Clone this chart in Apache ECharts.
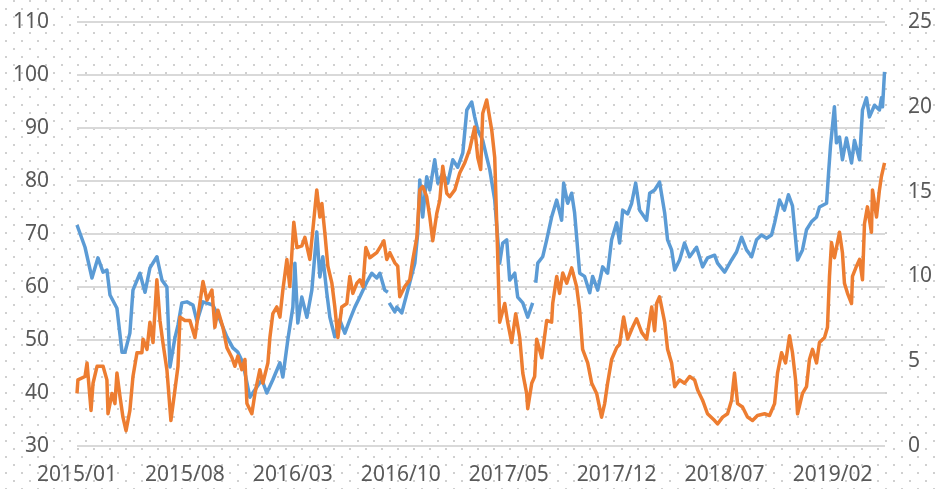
<!DOCTYPE html>
<html>
<head>
<meta charset="utf-8">
<script src="https://cdn.jsdelivr.net/npm/echarts@6/dist/echarts.min.js"></script>
<style>
    html, body { margin: 0; padding: 0; background: #fff; }
    #main { width: 938px; height: 489px; }
</style>
</head>
<body>
<div id="main"></div>
<script>
// x = months since 2015/01
var blueData = [
    [0,71.7],[0.52,67.5],[0.97,61.7],[1.36,65.5],[1.69,62.8],[1.94,63.2],[2.14,58.5],[2.59,56.0],
    [2.92,47.7],[3.11,47.7],[3.43,51.3],[3.63,59.4],[4.08,62.6],[4.41,59.0],[4.73,63.6],[5.18,65.7],
    [5.51,61.3],[5.83,60.0],[6.03,44.9],[6.35,50.4],[6.55,52.8],[6.80,57.0],[7.13,57.2],[7.52,56.6],
    [7.78,53.5],[8.17,57.2],[8.81,56.6],[9.27,53.8],[9.72,50.6],[10.11,48.5],[10.43,47.7],[10.76,45.7],
    [11.21,39.2],[11.54,40.6],[11.99,42.5],[12.31,40.0],[12.70,42.5],[13.16,45.7],[13.35,43.0],[13.67,50.0],
    [14.00,56.2],[14.13,64.5],[14.32,53.2],[14.58,58.1],[14.91,54.3],[15.23,59.4],[15.55,70.4],[15.75,61.9],
    [15.94,65.7],[16.20,58.9],[16.40,54.3],[16.72,50.6],[17.04,53.8],[17.37,51.3],[17.69,53.8],[18.02,56.2],
    [18.34,58.1],[18.79,60.9],[19.12,62.6],[19.44,61.7],[19.64,62.6],[19.96,59.4],[20.16,59.0],[20.20,null],
    [20.25,57.0],[20.61,55.3],[20.74,56.2],[21.06,55.1],[21.45,59.4],[21.91,64.5],[22.10,70.2],[22.23,80.2],
    [22.42,73.2],[22.68,80.8],[22.88,78.3],[23.20,84.0],[23.40,79.6],[23.72,81.5],[24.04,79.6],[24.37,84.0],
    [24.69,82.6],[25.02,85.3],[25.28,93.4],[25.60,94.9],[25.79,92.1],[25.99,89.6],[26.31,87.7],[26.57,84.5],
    [26.77,82.1],[27.09,76.4],[27.41,64.5],[27.61,68.3],[27.87,68.9],[28.06,61.3],[28.39,62.6],[28.58,58.1],
    [28.91,57.0],[29.23,54.3],[29.55,57.0],[29.65,null],[29.75,60.8],[29.88,64.5],[30.20,65.7],[30.46,68.9],
    [30.78,73.2],[31.11,76.4],[31.43,72.6],[31.56,79.6],[31.82,75.8],[32.08,77.7],[32.27,74.0],[32.60,62.6],
    [32.92,62.0],[33.25,58.9],[33.44,62.0],[33.77,59.4],[34.09,63.8],[34.41,62.6],[34.67,68.9],[35.00,72.1],
    [35.19,68.3],[35.39,74.5],[35.71,73.8],[35.97,75.8],[36.23,79.6],[36.49,74.5],[36.94,72.6],[37.14,77.7],
    [37.46,78.3],[37.78,79.8],[38.11,74.0],[38.30,68.9],[38.56,67.0],[38.76,63.2],[39.08,65.1],[39.40,68.3],
    [39.73,65.7],[40.18,67.5],[40.57,63.8],[40.89,65.5],[41.35,66.0],[41.54,64.5],[42.00,62.8],[42.45,65.1],
    [42.77,66.6],[43.10,69.4],[43.42,67.0],[43.75,65.7],[44.07,68.9],[44.39,69.8],[44.72,69.2],[45.04,69.8],
    [45.24,72.1],[45.56,76.4],[45.88,74.5],[46.14,77.4],[46.40,75.3],[46.73,65.1],[47.05,67.0],[47.31,70.8],
    [47.63,72.3],[47.96,73.2],[48.15,75.1],[48.61,75.8],[48.74,81.5],[48.87,86.8],[49.12,94.0],[49.25,87.2],
    [49.45,88.3],[49.64,84.0],[49.90,88.1],[50.23,83.4],[50.42,87.7],[50.75,84.0],[50.94,93.4],[51.20,95.7],
    [51.39,92.1],[51.72,94.3],[52.04,93.4],[52.17,95.7],[52.24,94.0],[52.37,100.6]
];

var orangeData = [
    [0,3.1],[0.06,3.9],[0.52,4.1],[0.65,4.9],[0.91,2.1],[1.04,3.7],[1.30,4.7],[1.69,4.7],
    [1.94,3.9],[2.01,1.9],[2.27,3.1],[2.46,2.5],[2.59,4.3],[2.79,2.9],[2.98,1.7],[3.18,0.9],
    [3.43,2.1],[3.63,4.1],[3.89,5.5],[4.21,5.5],[4.28,6.3],[4.54,5.7],[4.73,7.3],[4.93,6.1],
    [5.18,9.8],[5.38,7.4],[5.57,6.1],[5.83,4.5],[6.09,1.5],[6.35,3.3],[6.55,4.7],[6.68,7.6],
    [7.00,7.4],[7.32,7.4],[7.65,6.4],[7.84,7.6],[8.17,9.7],[8.43,8.6],[8.75,9.2],[8.94,7.0],
    [9.14,8.0],[9.46,7.0],[9.72,5.8],[10.05,5.2],[10.24,4.7],[10.43,5.3],[10.69,4.5],[10.89,5.1],
    [11.02,2.5],[11.34,1.9],[11.54,3.1],[11.86,4.5],[12.05,3.7],[12.38,4.9],[12.51,6.4],[12.70,7.8],
    [12.96,8.2],[13.16,7.6],[13.35,9.2],[13.61,11.0],[13.80,9.4],[14.06,13.2],[14.26,11.7],[14.58,11.8],
    [14.78,12.3],[15.10,11.0],[15.29,12.7],[15.55,15.1],[15.75,13.5],[15.88,14.3],[16.07,12.6],[16.27,10.6],
    [16.53,9.6],[16.72,8.2],[16.92,6.4],[17.17,8.2],[17.50,8.4],[17.69,10.0],[17.89,9.0],[18.15,9.6],
    [18.34,9.8],[18.54,9.4],[18.73,11.7],[18.99,11.1],[19.44,11.4],[19.64,11.7],[19.90,12.1],[20.09,11.0],
    [20.29,11.4],[20.61,10.8],[20.80,10.6],[20.93,8.8],[21.26,9.4],[21.58,9.8],[21.78,11.0],[22.04,12.3],
    [22.23,15.1],[22.42,15.3],[22.68,14.7],[22.88,13.5],[23.07,12.1],[23.33,13.7],[23.53,14.5],[23.72,16.5],
    [23.98,14.9],[24.17,14.7],[24.50,15.1],[24.82,16.1],[25.15,16.7],[25.47,17.5],[25.79,18.8],[25.99,17.0],
    [26.18,16.3],[26.31,19.6],[26.57,20.4],[26.90,18.6],[27.09,17.0],[27.22,13.1],[27.35,9.2],[27.41,7.3],
    [27.74,8.4],[27.93,7.3],[28.19,6.1],[28.45,7.8],[28.71,6.4],[28.91,4.3],[29.16,3.1],[29.23,2.2],
    [29.49,3.7],[29.68,4.1],[29.81,6.3],[30.14,5.2],[30.46,7.4],[30.78,7.3],[30.85,8.4],[31.11,10.0],
    [31.30,9.0],[31.50,10.2],[31.76,9.6],[32.08,10.5],[32.40,9.4],[32.60,8.0],[32.79,5.7],[33.12,4.9],
    [33.38,3.7],[33.70,3.1],[34.02,1.7],[34.22,2.5],[34.41,3.7],[34.67,5.1],[35.00,5.8],[35.19,6.0],
    [35.45,7.6],[35.71,6.3],[36.03,7.0],[36.29,7.5],[36.62,6.7],[36.94,6.3],[37.27,8.2],[37.46,6.8],
    [37.59,8.4],[37.78,8.8],[38.11,7.3],[38.30,5.7],[38.56,4.9],[38.76,3.5],[39.08,3.9],[39.40,3.7],
    [39.73,4.1],[40.05,3.9],[40.25,3.3],[40.57,2.7],[40.89,1.9],[41.35,1.5],[41.54,1.3],[41.87,1.7],
    [42.19,1.9],[42.45,2.7],[42.64,4.3],[42.84,2.5],[43.16,2.3],[43.49,1.7],[43.81,1.5],[44.13,1.8],
    [44.59,1.9],[44.91,1.8],[45.24,2.5],[45.43,4.3],[45.69,5.5],[45.95,4.9],[46.21,6.5],[46.40,5.5],
    [46.60,3.9],[46.73,1.9],[47.05,3.1],[47.31,3.5],[47.50,5.1],[47.70,5.7],[47.96,4.9],[48.15,6.1],
    [48.48,6.4],[48.67,7.0],[48.80,10.0],[48.93,12.0],[49.12,11.1],[49.45,12.6],[49.64,11.4],[49.77,9.6],
    [49.97,9.0],[50.23,8.4],[50.29,10.0],[50.55,10.6],[50.75,11.0],[50.94,9.8],[51.07,13.1],[51.26,14.1],
    [51.52,12.6],[51.59,15.1],[51.85,13.5],[52.04,15.1],[52.17,15.9],[52.24,15.9],[52.37,16.7]
];

var startYear = 2015;
var leftMin = 30, leftMax = 110, leftStep = 10;
var rightMin = 0, rightMax = 25, rightStep = 5;
var monthStep = 7, monthMax = 52.4;

// dotted chart-area fill
var pat = document.createElement('canvas');
pat.width = 16; pat.height = 16;
var pctx = pat.getContext('2d');
pctx.fillStyle = '#d0d0d0';
pctx.fillRect(13, 0, 2, 2);
pctx.fillRect(5, 8, 2, 2);
document.getElementById('main').style.background = '#fff url(' + pat.toDataURL() + ') repeat';

var myChart = echarts.init(document.getElementById('main'));

var labelStyle = {
    color: '#595959',
    fontSize: 21,
    fontFamily: 'Noto Sans'
};

var option = {
    animation: false,
    grid: {
        left: 77,
        right: 53,
        top: 22,
        bottom: 43,
        containLabel: false
    },
    xAxis: {
        type: 'value',
        min: 0,
        max: monthMax,
        interval: monthStep,
        axisLine: { show: false },
        axisTick: { show: false },
        splitLine: { show: false },
        axisLabel: Object.assign({}, labelStyle, {
            margin: 19,
            showMaxLabel: false,
            formatter: function (v) {
                var y = startYear + Math.floor(v / 12);
                var m = Math.round(v % 12) + 1;
                return y + '/' + (m < 10 ? '0' + m : m);
            }
        })
    },
    yAxis: [
        {
            type: 'value',
            min: leftMin,
            max: leftMax,
            interval: leftStep,
            axisLine: { show: false },
            axisTick: { show: false },
            splitLine: { lineStyle: { color: '#d9d9d9', width: 2 } },
            axisLabel: Object.assign({}, labelStyle, { margin: 28 })
        },
        {
            type: 'value',
            min: rightMin,
            max: rightMax,
            interval: rightStep,
            axisLine: { show: false },
            axisTick: { show: false },
            splitLine: { show: false },
            axisLabel: Object.assign({}, labelStyle, { margin: 23 })
        }
    ],
    series: [
        {
            name: 'left',
            type: 'line',
            yAxisIndex: 0,
            symbol: 'none',
            connectNulls: false,
            lineStyle: { color: '#5b9bd5', width: 3.5, join: 'round' },
            itemStyle: { color: '#5b9bd5' },
            data: blueData
        },
        {
            name: 'right',
            type: 'line',
            yAxisIndex: 1,
            symbol: 'none',
            lineStyle: { color: '#ed7d31', width: 3.5, join: 'round' },
            itemStyle: { color: '#ed7d31' },
            data: orangeData
        }
    ]
};
myChart.setOption(option);
</script>
</body>
</html>
